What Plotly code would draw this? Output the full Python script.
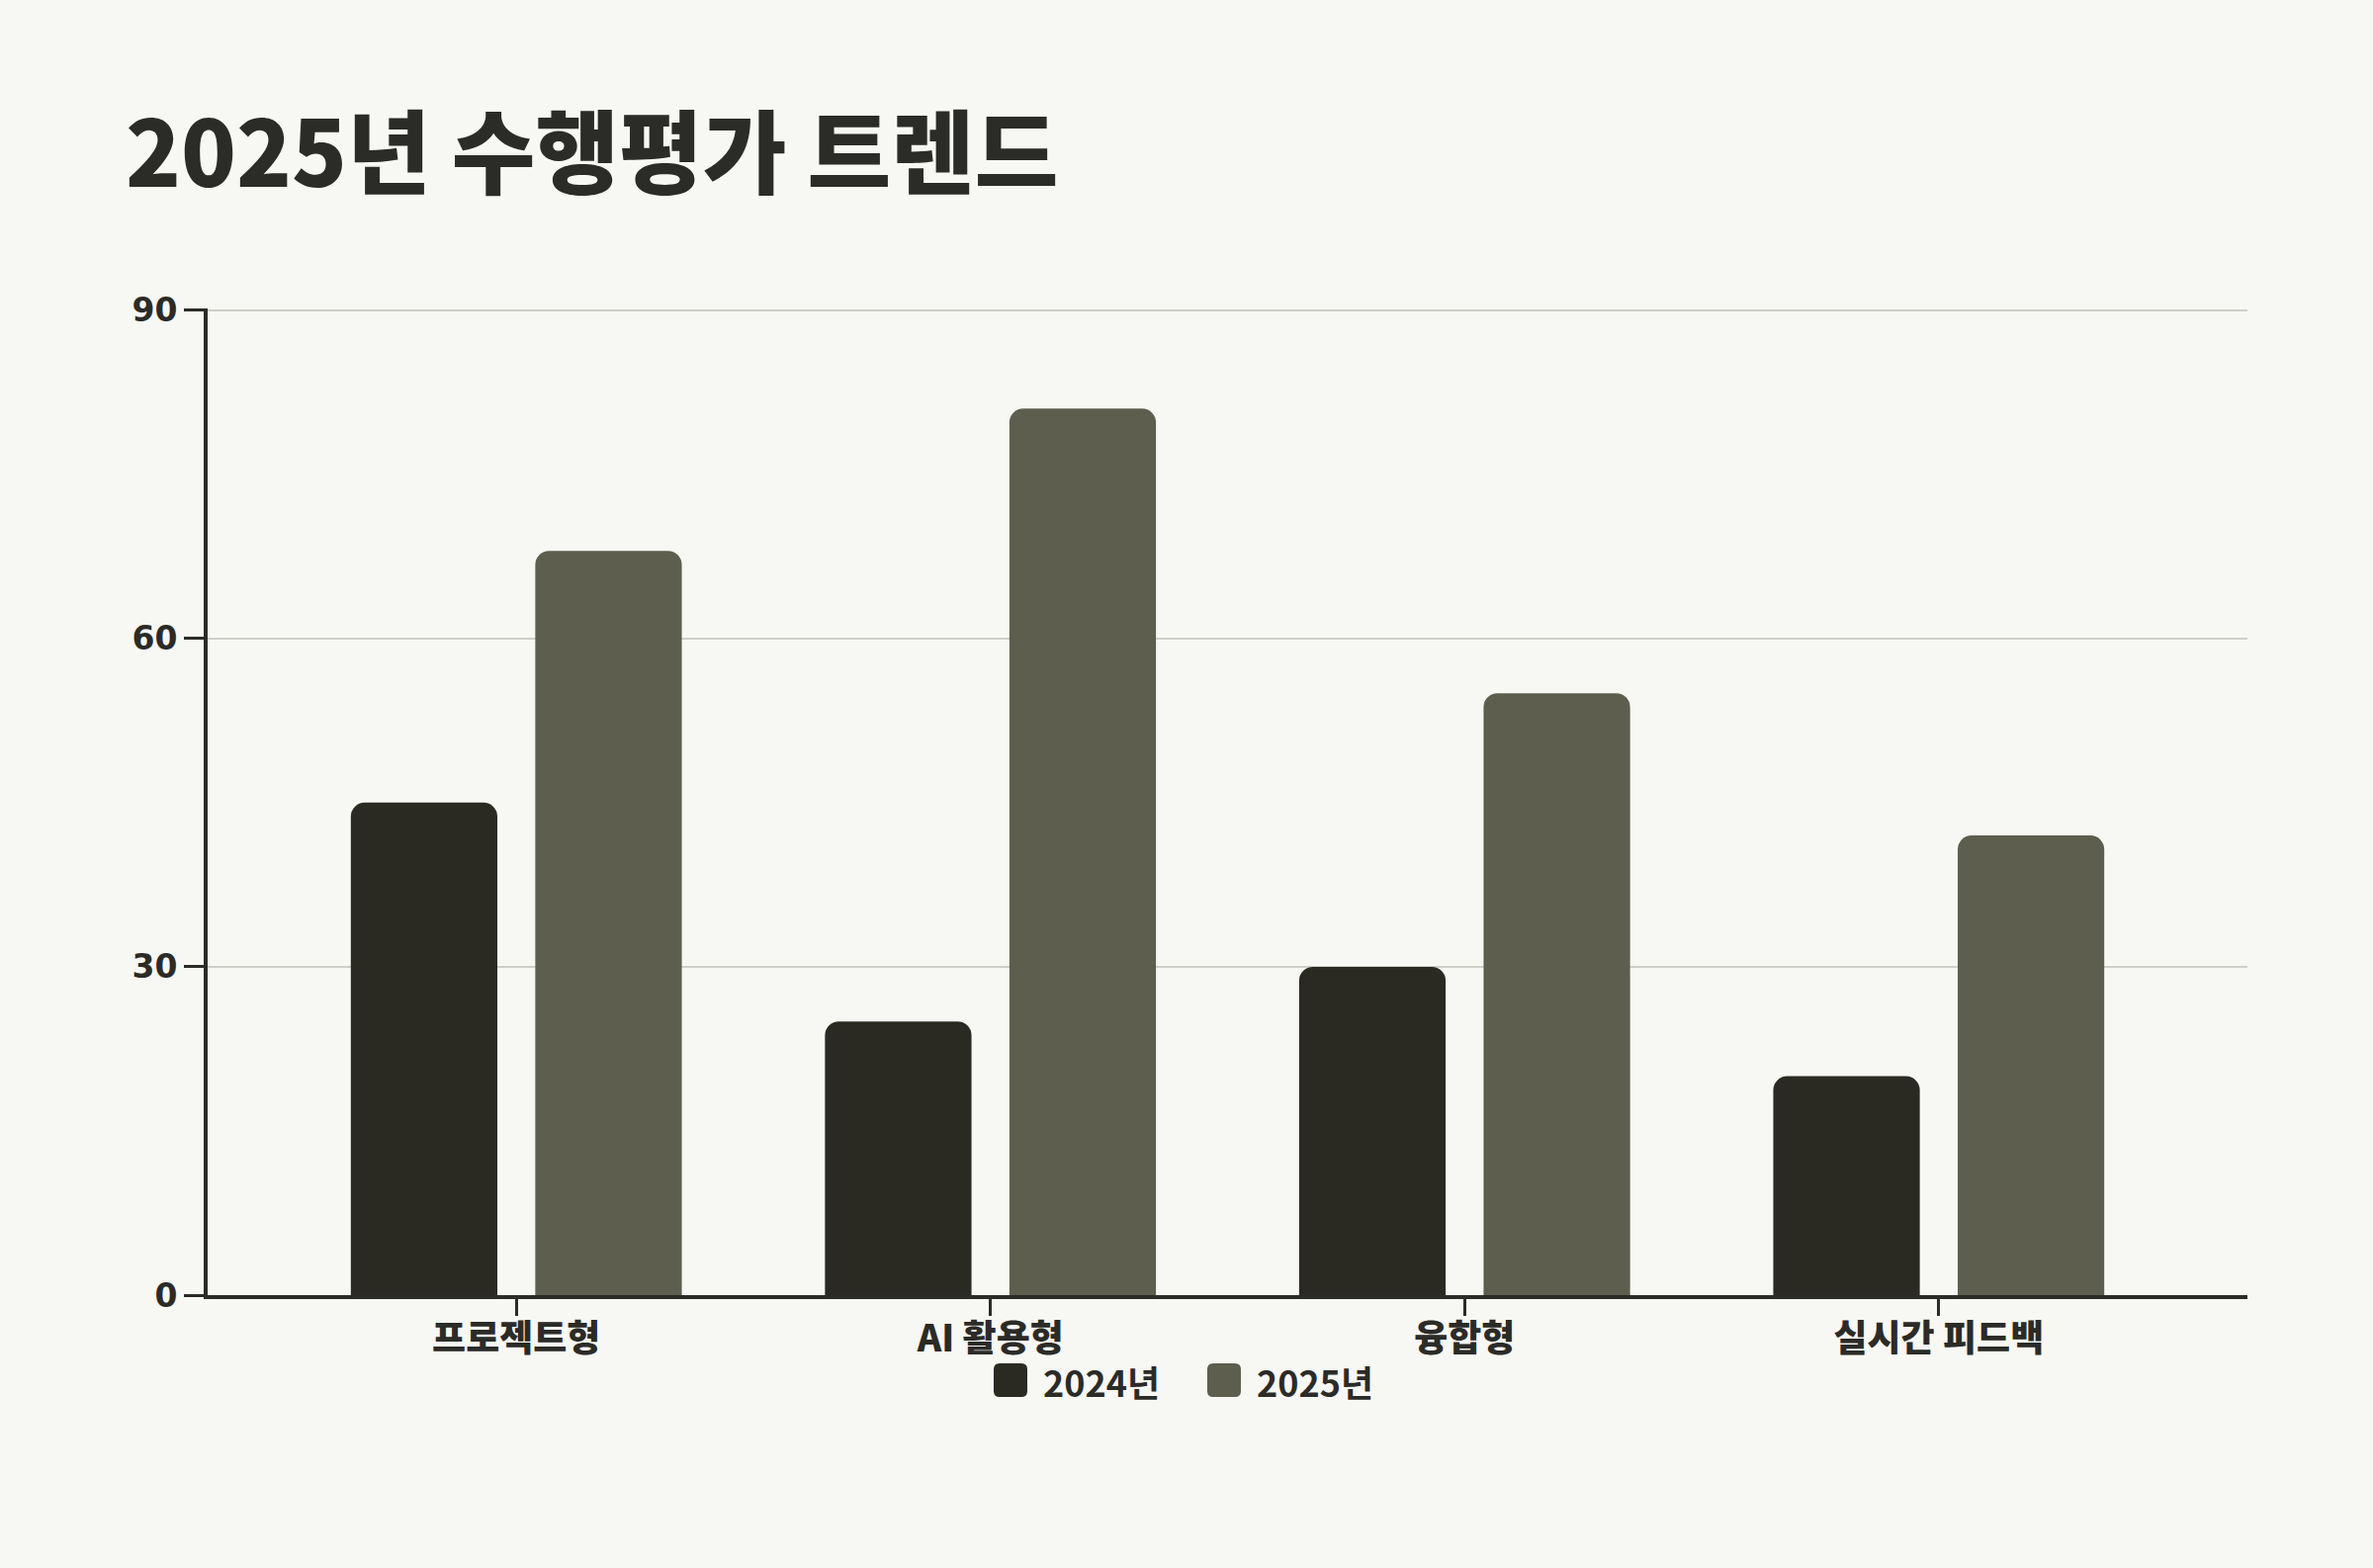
import plotly.graph_objects as go

categories = ["프로젝트형", "AI 활용형", "융합형", "실시간 피드백"]
series_names = ["2024년", "2025년"]
values_2024 = [45, 25, 30, 20]
values_2025 = [68, 81, 55, 42]
y_ticks = [0, 30, 60, 90]

title_text = "2025년 수행평가 트렌드"

BG = "#f7f7f3"
TXT = "#2b2b27"
C2024 = "#2a2a22"
C2025 = "#5d5e4e"
colors = [C2024, C2025]
FONT = "Noto Sans CJK KR, Inter, sans-serif"

W, H = 2400, 1586
ML, MR, MT, MB = 210, 127, 312, 276
PW, PH = W - ML - MR, H - MT - MB

x_idx = list(range(len(categories)))

fig = go.Figure()
for name, vals, col, off in [(series_names[0], values_2024, C2024, -0.349),
                             (series_names[1], values_2025, C2025, 0.040)]:
    fig.add_trace(go.Bar(
        x=x_idx, y=vals, name=name,
        marker=dict(color=col, cornerradius=14, line=dict(width=0)),
        width=0.309, offset=off, showlegend=False,
    ))

# custom legend (decoration) in pixel positions converted to paper coords
def px(x):
    return (x - ML) / PW

def py(y):
    return (H - MB - y) / PH

def rrect(x0, y0, x1, y1, r):
    pts = [
        f"M{px(x0 + r)},{py(y0)}",
        f"L{px(x1 - r)},{py(y0)}",
        f"Q{px(x1)},{py(y0)} {px(x1)},{py(y0 + r)}",
        f"L{px(x1)},{py(y1 - r)}",
        f"Q{px(x1)},{py(y1)} {px(x1 - r)},{py(y1)}",
        f"L{px(x0 + r)},{py(y1)}",
        f"Q{px(x0)},{py(y1)} {px(x0)},{py(y1 - r)}",
        f"L{px(x0)},{py(y0 + r)}",
        f"Q{px(x0)},{py(y0)} {px(x0 + r)},{py(y0)}",
        "Z",
    ]
    return " ".join(pts)

legend_swatch_x = [1005, 1221]
shapes = []
annotations = []
for i, name in enumerate(series_names):
    x0 = legend_swatch_x[i]
    shapes.append(dict(type="path", xref="paper", yref="paper",
                       path=rrect(x0, 1379, x0 + 34, 1413, 6),
                       fillcolor=colors[i], line=dict(width=0), layer="above"))
    annotations.append(dict(xref="paper", yref="paper", x=px(x0 + 48), y=py(1397),
                            xanchor="left", yanchor="middle", showarrow=False,
                            text="<b>" + name + "</b>",
                            font=dict(family=FONT, size=36, color=TXT, weight=900)))

fig.update_layout(
    width=W, height=H,
    barmode="overlay",
    paper_bgcolor=BG, plot_bgcolor=BG,
    margin=dict(l=ML, r=MR, t=MT, b=MB),
    font=dict(family=FONT, color=TXT, size=30),
    title=dict(
        text=title_text,
        x=127 / W, xanchor="left",
        y=1 - 157 / H, yanchor="middle", yref="container",
        font=dict(family=FONT, size=92, color=TXT, weight=900),
    ),
    xaxis=dict(
        tickmode="array", tickvals=x_idx,
        ticktext=categories,
        range=[-0.651, 3.651],
        showgrid=False, zeroline=False,
        showline=True, linecolor=TXT, linewidth=4,
        ticks="outside", ticklen=17, tickwidth=3, tickcolor=TXT,
        ticklabelstandoff=-8,
        tickfont=dict(family=FONT, size=37, color=TXT, weight=900),
    ),
    yaxis=dict(
        range=[0, 90.15], tickmode="array", tickvals=y_ticks,
        ticktext=[str(v) for v in y_ticks],
        showgrid=True, gridcolor="#cfcfca", gridwidth=2,
        zeroline=False,
        showline=True, linecolor=TXT, linewidth=4,
        ticks="outside", ticklen=20, tickwidth=3, tickcolor=TXT,
        tickfont=dict(family="DejaVu Sans, " + FONT, size=33, color=TXT, weight=900),
    ),
    shapes=shapes,
    annotations=annotations,
    showlegend=False,
)

fig.write_html("out.html",
               config={"displayModeBar": False},
               post_script="document.body.style.margin='0';document.body.style.background='%s';" % BG)
